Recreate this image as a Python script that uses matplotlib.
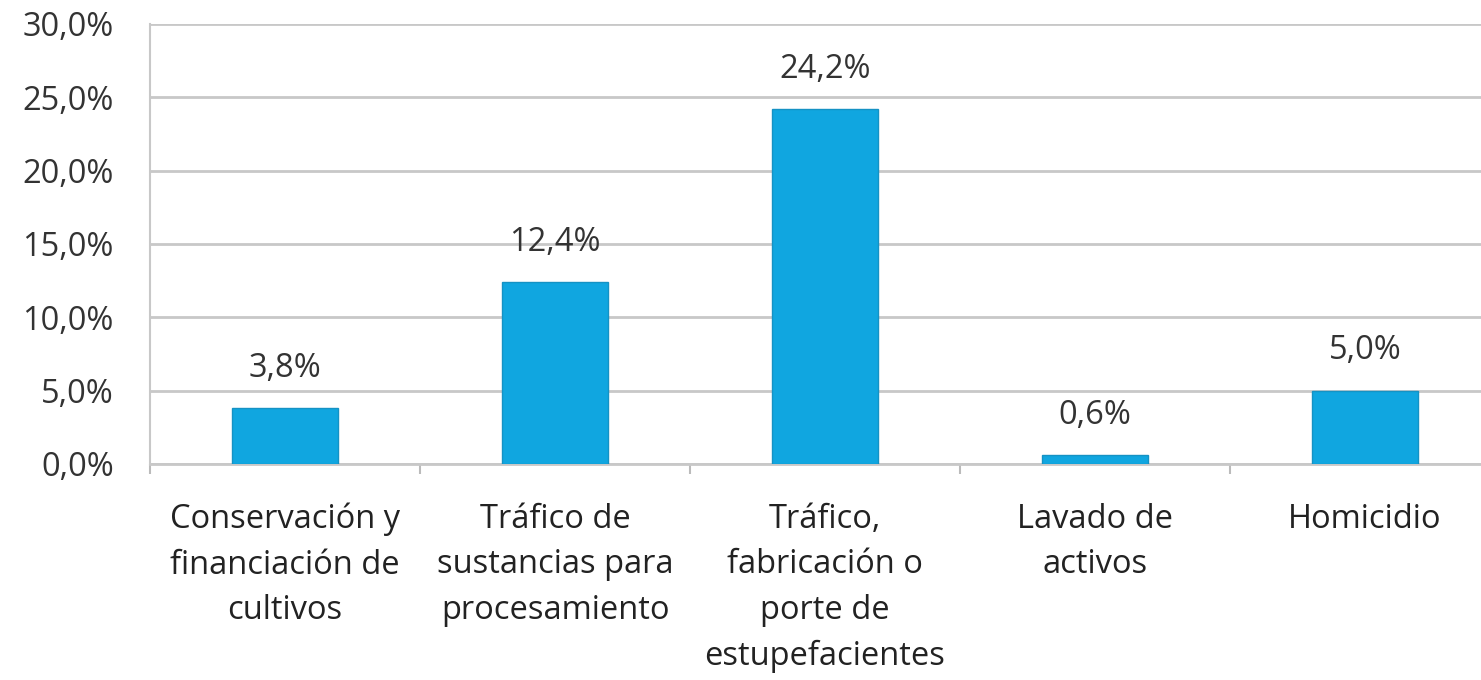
import matplotlib.pyplot as plt
import numpy as np

categorias = ['Conservación y\nfinanciación de\ncultivos',
              'Tráfico de\nsustancias para\nprocesamiento',
              'Tráfico,\nfabricación o\nporte de\nestupefacientes',
              'Lavado de\nactivos',
              'Homicidio']
valores = [3.8, 12.4, 24.2, 0.6, 5.0]
yticks = [0, 5, 10, 15, 20, 25, 30]

plt.rcParams['font.family'] = ['Open Sans', 'DejaVu Sans']

fig = plt.figure(figsize=(14.81, 6.8), dpi=100)
ax = fig.add_axes([150 / 1481, 1 - 464 / 680, 1350 / 1481, 440 / 680])

x = np.arange(len(categorias))
ax.bar(x, valores, width=0.39, color='#10a6e0', edgecolor='#1592c4', linewidth=1, zorder=3)

for xi, v in zip(x, valores):
    ax.text(xi, v + 1.6, f'{v:.1f}%'.replace('.', ','), ha='center', va='bottom',
            fontsize=23.5, color='#333333')

ax.set_xlim(-0.5, len(categorias) - 0.5)
ax.set_ylim(0, 30)
ax.set_yticks(yticks)
ax.set_yticklabels([f'{t:.1f}%'.replace('.', ',') for t in yticks], fontsize=23.5, color='#333333')
ax.yaxis.grid(True, color='#c8c8c8', linewidth=2, zorder=0)
ax.tick_params(axis='y', length=0, pad=26)

ax.set_xticks(x)
ax.set_xticklabels(categorias, fontsize=23.5, color='#222222', linespacing=1.5)
ax.set_xticks(np.arange(len(categorias) + 1) - 0.5, minor=True)
ax.tick_params(axis='x', which='major', length=0, pad=28)
ax.tick_params(axis='x', which='minor', length=7, width=1.5, color='#bbbbbb')

for s in ['top', 'right']:
    ax.spines[s].set_visible(False)
ax.spines['bottom'].set_color('#c8c8c8')
ax.spines['bottom'].set_linewidth(2)
ax.spines['left'].set_color('#c8c8c8')
ax.spines['left'].set_linewidth(1.5)

fig.savefig('out.png', dpi=100)
